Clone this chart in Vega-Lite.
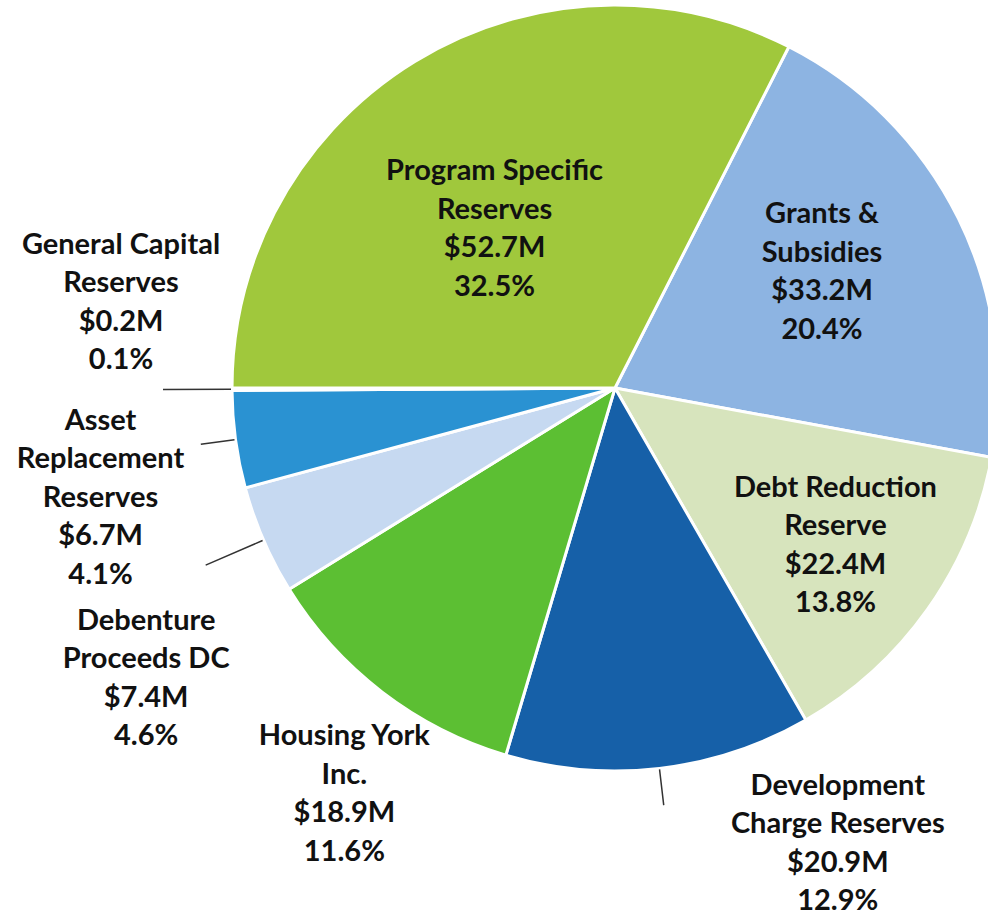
{
  "$schema": "https://vega.github.io/schema/vega-lite/v6.json",
  "width": 988,
  "height": 916,
  "autosize": {"type": "none"},
  "padding": 0,
  "background": "white",
  "config": {"view": {"stroke": null}},
  "data": {
    "values": [
      {"idx": 1, "name": "Grants & Subsidies", "lines": "Grants &\nSubsidies", "amount": 33.2, "pct": 20.4},
      {"idx": 2, "name": "Debt Reduction Reserve", "lines": "Debt Reduction\nReserve", "amount": 22.4, "pct": 13.8},
      {"idx": 3, "name": "Development Charge Reserves", "lines": "Development\nCharge Reserves", "amount": 20.9, "pct": 12.9},
      {"idx": 4, "name": "Housing York Inc.", "lines": "Housing York\nInc.", "amount": 18.9, "pct": 11.6},
      {"idx": 5, "name": "Debenture Proceeds DC", "lines": "Debenture\nProceeds DC", "amount": 7.4, "pct": 4.6},
      {"idx": 6, "name": "Asset Replacement Reserves", "lines": "Asset\nReplacement\nReserves", "amount": 6.7, "pct": 4.1},
      {"idx": 7, "name": "General Capital Reserves", "lines": "General Capital\nReserves", "amount": 0.2, "pct": 0.1},
      {"idx": 8, "name": "Program Specific Reserves", "lines": "Program Specific\nReserves", "amount": 52.7, "pct": 32.5}
    ]
  },
  "transform": [
    {"stack": "pct", "groupby": [], "sort": [{"field": "idx"}], "as": ["s0", "s1"]},
    {"calculate": "(datum.s0 + datum.s1) / 2", "as": "mid"},
    {"calculate": "datum.lines + '\\n$' + format(datum.amount, '.1f') + 'M\\n' + format(datum.pct, '.1f') + '%'", "as": "label"}
  ],
  "layer": [
    {
      "mark": {"type": "arc", "x": 615, "y": 388, "radius": 383, "stroke": "white", "strokeWidth": 3},
      "encoding": {
        "theta": {"field": "s0", "type": "quantitative", "stack": null, "scale": {"domain": [0, 100], "range": [0.4712, 6.7544]}},
        "theta2": {"field": "s1"},
        "color": {
          "field": "name", "type": "nominal", "legend": null,
          "scale": {
            "domain": ["Grants & Subsidies", "Debt Reduction Reserve", "Development Charge Reserves", "Housing York Inc.", "Debenture Proceeds DC", "Asset Replacement Reserves", "General Capital Reserves", "Program Specific Reserves"],
            "range": ["#8DB4E2", "#D7E4BD", "#1660A8", "#5CBF33", "#C6D9F1", "#2A92D2", "#F2F2F2", "#A0C83C"]
          }
        }
      }
    },
    {
      "transform": [{"filter": "datum.idx == 7"}],
      "mark": {"type": "arc", "x": 615, "y": 388, "radius": 452, "radius2": 384, "stroke": "#333333", "strokeWidth": 1.5, "fill": null},
      "encoding": {
        "theta": {"field": "mid", "type": "quantitative", "stack": null, "scale": {"domain": [0, 100], "range": [0.4712, 6.7544]}},
        "theta2": {"field": "mid"}
      }
    },
    {
      "transform": [{"filter": "datum.idx == 6"}],
      "mark": {"type": "arc", "x": 615, "y": 388, "radius": 418, "radius2": 384, "stroke": "#333333", "strokeWidth": 1.5, "fill": null},
      "encoding": {
        "theta": {"field": "mid", "type": "quantitative", "stack": null, "scale": {"domain": [0, 100], "range": [0.4712, 6.7544]}},
        "theta2": {"field": "mid"}
      }
    },
    {
      "transform": [{"filter": "datum.idx == 5"}],
      "mark": {"type": "arc", "x": 615, "y": 388, "radius": 446, "radius2": 384, "stroke": "#333333", "strokeWidth": 1.5, "fill": null},
      "encoding": {
        "theta": {"field": "mid", "type": "quantitative", "stack": null, "scale": {"domain": [0, 100], "range": [0.4712, 6.7544]}},
        "theta2": {"field": "mid"}
      }
    },
    {
      "transform": [{"filter": "datum.idx == 3"}],
      "mark": {"type": "arc", "x": 615, "y": 388, "radius": 420, "radius2": 384, "stroke": "#333333", "strokeWidth": 1.5, "fill": null},
      "encoding": {
        "theta": {"field": "mid", "type": "quantitative", "stack": null, "scale": {"domain": [0, 100], "range": [0.4712, 6.7544]}},
        "theta2": {"field": "mid"}
      }
    },
    {
      "transform": [{"filter": "datum.idx == 8"}],
      "mark": {"type": "text", "x": 615, "y": 388, "radius": 198, "dx": -17, "dy": -48, "font": "Lato", "fontWeight": "bold", "fontSize": 29, "lineHeight": 38.5, "lineBreak": "\n", "align": "center", "baseline": "middle", "color": "#111111"},
      "encoding": {
        "theta": {"field": "mid", "type": "quantitative", "stack": null, "scale": {"domain": [0, 100], "range": [0.4712, 6.7544]}},
        "text": {"field": "label"}
      }
    },
    {
      "transform": [{"filter": "datum.idx == 1"}],
      "mark": {"type": "text", "x": 615, "y": 388, "radius": 232, "dx": -1, "dy": -71, "font": "Lato", "fontWeight": "bold", "fontSize": 29, "lineHeight": 38.5, "lineBreak": "\n", "align": "center", "baseline": "middle", "color": "#111111"},
      "encoding": {
        "theta": {"field": "mid", "type": "quantitative", "stack": null, "scale": {"domain": [0, 100], "range": [0.4712, 6.7544]}},
        "text": {"field": "label"}
      }
    },
    {
      "transform": [{"filter": "datum.idx == 2"}],
      "mark": {"type": "text", "x": 615, "y": 388, "radius": 270, "dx": 0, "dy": -56, "font": "Lato", "fontWeight": "bold", "fontSize": 29, "lineHeight": 38.5, "lineBreak": "\n", "align": "center", "baseline": "middle", "color": "#111111"},
      "encoding": {
        "theta": {"field": "mid", "type": "quantitative", "stack": null, "scale": {"domain": [0, 100], "range": [0.4712, 6.7544]}},
        "text": {"field": "label"}
      }
    },
    {
      "transform": [{"filter": "datum.idx == 3"}],
      "mark": {"type": "text", "x": 615, "y": 388, "radius": 455, "dx": 170, "dy": -54, "font": "Lato", "fontWeight": "bold", "fontSize": 29, "lineHeight": 38.5, "lineBreak": "\n", "align": "center", "baseline": "middle", "color": "#111111"},
      "encoding": {
        "theta": {"field": "mid", "type": "quantitative", "stack": null, "scale": {"domain": [0, 100], "range": [0.4712, 6.7544]}},
        "text": {"field": "label"}
      }
    },
    {
      "transform": [{"filter": "datum.idx == 4"}],
      "mark": {"type": "text", "x": 615, "y": 388, "radius": 488, "dx": 26, "dy": -39, "font": "Lato", "fontWeight": "bold", "fontSize": 29, "lineHeight": 38.5, "lineBreak": "\n", "align": "center", "baseline": "middle", "color": "#111111"},
      "encoding": {
        "theta": {"field": "mid", "type": "quantitative", "stack": null, "scale": {"domain": [0, 100], "range": [0.4712, 6.7544]}},
        "text": {"field": "label"}
      }
    },
    {
      "transform": [{"filter": "datum.idx == 5"}],
      "mark": {"type": "text", "x": 615, "y": 388, "radius": 500, "dx": -10, "dy": 34, "font": "Lato", "fontWeight": "bold", "fontSize": 29, "lineHeight": 38.5, "lineBreak": "\n", "align": "center", "baseline": "middle", "color": "#111111"},
      "encoding": {
        "theta": {"field": "mid", "type": "quantitative", "stack": null, "scale": {"domain": [0, 100], "range": [0.4712, 6.7544]}},
        "text": {"field": "label"}
      }
    },
    {
      "transform": [{"filter": "datum.idx == 6"}],
      "mark": {"type": "text", "x": 615, "y": 388, "radius": 495, "dx": -24, "dy": -34, "font": "Lato", "fontWeight": "bold", "fontSize": 29, "lineHeight": 38.5, "lineBreak": "\n", "align": "center", "baseline": "middle", "color": "#111111"},
      "encoding": {
        "theta": {"field": "mid", "type": "quantitative", "stack": null, "scale": {"domain": [0, 100], "range": [0.4712, 6.7544]}},
        "text": {"field": "label"}
      }
    },
    {
      "transform": [{"filter": "datum.idx == 7"}],
      "mark": {"type": "text", "x": 615, "y": 388, "radius": 493, "dx": -1, "dy": -145, "font": "Lato", "fontWeight": "bold", "fontSize": 29, "lineHeight": 38.5, "lineBreak": "\n", "align": "center", "baseline": "middle", "color": "#111111"},
      "encoding": {
        "theta": {"field": "mid", "type": "quantitative", "stack": null, "scale": {"domain": [0, 100], "range": [0.4712, 6.7544]}},
        "text": {"field": "label"}
      }
    }
  ]
}
